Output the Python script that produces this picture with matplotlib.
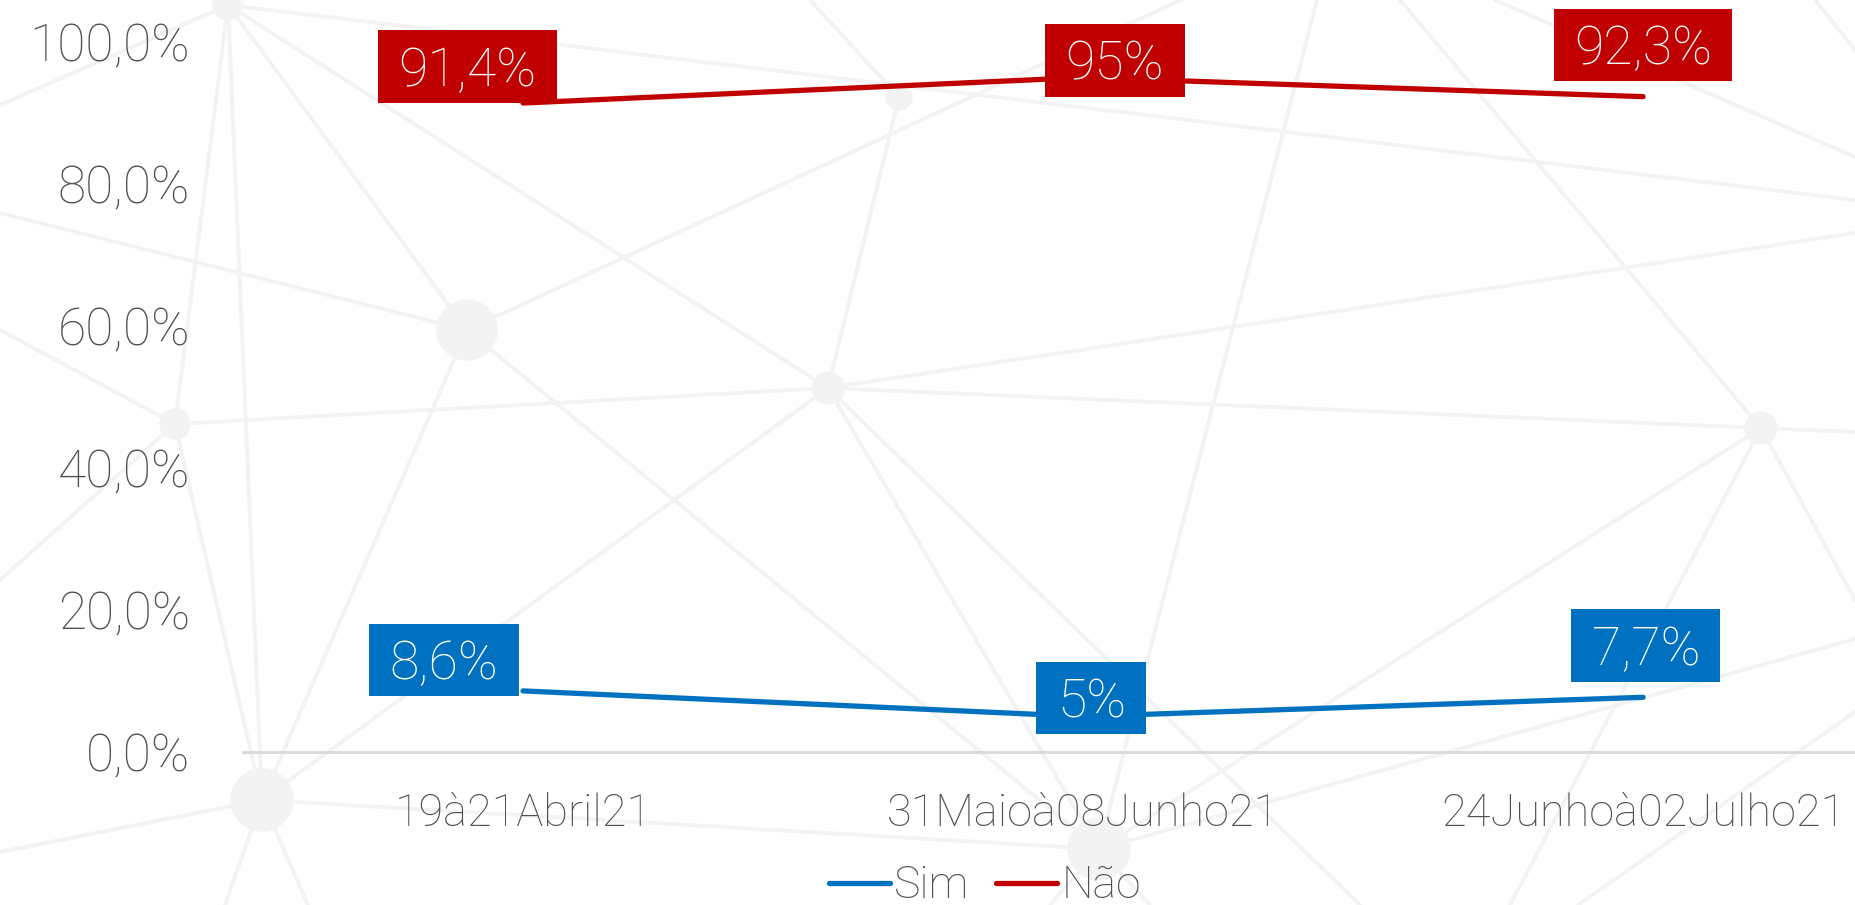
import matplotlib
matplotlib.use('Agg')
import numpy as np
import matplotlib.pyplot as plt
from matplotlib.path import Path
from matplotlib.lines import Line2D

plt.rcParams['font.family'] = ['Roboto', 'DejaVu Sans']
plt.rcParams['font.weight'] = 'light'

# survey waves and answers
waves = ['19à21Abril21', '31Maioà08Junho21', '24Junhoà02Julho21']
sim = [8.6, 5.0, 7.7]
nao = [91.4, 95.0, 92.3]
y_ticks = [0, 20, 40, 60, 80, 100]

blue = '#0070C0'
red = '#C00000'
grey_text = '#505050'

# label offsets (points) from each point to the centre of its tag
sim_offsets = [(-57, 19), (6, 10), (2, 34)]
nao_offsets = [(-40, 23), (23, 9), (0, 34)]

# faint network drawn behind the chart (pixel coords)
nodes = {
    'a': (228, 5, 15), 'b': (467, 330, 30), 'c': (175, 424, 15),
    'd': (828, 388, 16), 'e': (899, 97, 13), 'f': (262, 800, 31),
    'g': (1099, 849, 31), 'h': (1761, 428, 16),
}
edges = [
    ('a', 'f'), ('a', 'c'), ('a', 'b'), ('a', (1855, 200)), ('a', 'd'),
    ((0, 105), 'a'), ((0, 213), 'b'), ('b', (1181, 0)), ('b', 'f'), ('b', 'g'),
    ('c', 'd'), ('d', 'h'), ('h', (1855, 432)), ('e', 'd'), ('e', (810, 0)),
    ('d', 'f'), ('d', 'g'), ('d', (1855, 233)), ('d', (1360, 905)),
    ((1317, 0), 'g'), ((1400, 0), 'h'), ((1495, 0), (1855, 157)),
    ((1815, 0), (1855, 50)), ('f', (0, 852)), ('f', 'g'), ('c', 'f'),
    ((0, 580), 'c'), ('f', (225, 905)), ('f', (308, 905)), ('g', 'h'),
    ('g', (1855, 639)), ((1578, 905), (1855, 712)), ('h', (1855, 600)),
    ('h', (1510, 905)), ('g', (1050, 905)), ('g', (1150, 905)),
    ('c', (0, 330)),
]


def pt(p):
    if isinstance(p, str):
        return nodes[p][:2]
    return p


def pct(v, decimals=None):
    if decimals is None:
        s = f'{v:g}'
    else:
        s = f'{v:.{decimals}f}'
    return s.replace('.', ',') + '%'


def tag_box(x0, y0, width, height, mutation_size):
    # flat rectangle, wider than tall, centred on the digits
    ms = mutation_size
    cx = x0 + width / 2
    cy = y0 + height / 2 + 0.085 * ms
    hw = width / 2 + 0.38 * ms
    hh = 0.68 * ms
    verts = [(cx - hw, cy - hh), (cx + hw, cy - hh), (cx + hw, cy + hh),
             (cx - hw, cy + hh), (cx - hw, cy - hh)]
    codes = [Path.MOVETO, Path.LINETO, Path.LINETO, Path.LINETO, Path.CLOSEPOLY]
    return Path(verts, codes)


fig = plt.figure(figsize=(18.55, 9.05), dpi=100)

bg = fig.add_axes([0, 0, 1, 1], zorder=0)
bg.set_xlim(0, 1855)
bg.set_ylim(905, 0)
bg.axis('off')
for p, q in edges:
    (x1, y1), (x2, y2) = pt(p), pt(q)
    bg.plot([x1, x2], [y1, y2], color='#F3F3F3', lw=2.8, solid_capstyle='round')
for x, y, r in nodes.values():
    bg.add_patch(plt.Circle((x, y), r, color='#F3F3F3'))

ax = fig.add_axes([0.131, 0.1691, 0.9057, 0.7845], zorder=1)
ax.patch.set_alpha(0)

x = np.arange(len(waves))
ax.plot(x, sim, color=blue, lw=3.8, solid_capstyle='round', zorder=3)
ax.plot(x, nao, color=red, lw=3.8, solid_capstyle='round', zorder=3)

for series, offsets, color in [(sim, sim_offsets, blue), (nao, nao_offsets, red)]:
    for i, v in enumerate(series):
        ax.annotate(pct(v), (x[i], v), xytext=offsets[i], textcoords='offset points',
                    ha='center', va='center', fontsize=38.5, color='white',
                    bbox=dict(boxstyle=tag_box, fc=color, ec='none'),
                    annotation_clip=False, zorder=5)

ax.set_xlim(-0.5, 2.5)
ax.set_ylim(0, 100)
ax.set_yticks(y_ticks)
ax.set_yticklabels([pct(t, 1) for t in y_ticks])
ax.set_xticks(x)
ax.set_xticklabels(waves)
ax.tick_params(axis='y', length=0, pad=38, labelsize=37, labelcolor=grey_text)
ax.tick_params(axis='x', length=0, pad=29, labelsize=32.5, labelcolor=grey_text)
for side in ['left', 'right', 'top']:
    ax.spines[side].set_visible(False)
ax.spines['bottom'].set_color('#D9D9D9')
ax.spines['bottom'].set_linewidth(2)

handles = [Line2D([], [], color=blue, lw=3.8, solid_capstyle='round'),
           Line2D([], [], color=red, lw=3.8, solid_capstyle='round')]
leg = fig.legend(handles, ['Sim', 'Não'], loc='center', ncol=2, frameon=False,
                 bbox_to_anchor=(985 / 1855, 1 - 886 / 905), fontsize=32,
                 handlelength=1.36, handletextpad=0.1, columnspacing=0.6,
                 borderpad=0)
for t in leg.get_texts():
    t.set_color(grey_text)

fig.savefig('out.png', dpi=100)
